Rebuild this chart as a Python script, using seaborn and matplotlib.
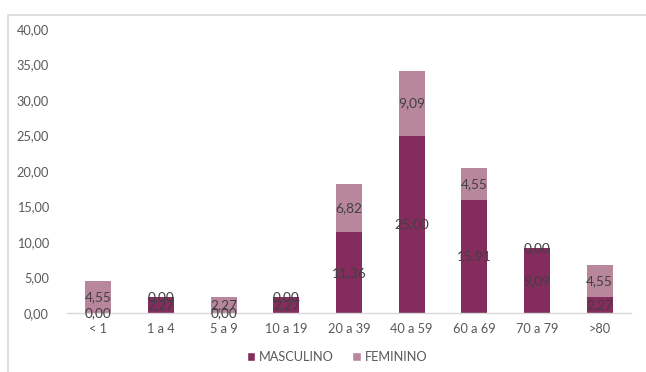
import matplotlib
matplotlib.use("Agg")
import matplotlib.pyplot as plt
from matplotlib.patches import Rectangle, Patch
import seaborn as sns
import pandas as pd

categories = ["< 1", "1 a 4", "5 a 9", "10 a 19", "20 a 39", "40 a 59", "60 a 69", "70 a 79", ">80"]
masculino = [0.00, 2.27, 0.00, 2.27, 11.36, 25.00, 15.91, 9.09, 2.27]
feminino = [4.55, 0.00, 2.27, 0.00, 6.82, 9.09, 4.55, 0.00, 4.55]
yticks = [0, 5, 10, 15, 20, 25, 30, 35, 40]

COL_M = "#842C5E"
COL_F = "#B8879C"
TXT = "#404040"
TICK = "#595959"

sns.set_theme(style="white")
plt.rcParams["font.family"] = ["Lato", "DejaVu Sans"]

df = pd.DataFrame({"faixa": categories, "masc": masculino, "fem": feminino})
df["total"] = df["masc"] + df["fem"]

W, H = 646, 372
fig = plt.figure(figsize=(W / 100, H / 100), dpi=100)
ax = fig.add_axes([67 / W, 1 - 313 / H, (631 - 67) / W, (313 - 29) / H])

# stacked bars: total (feminino on top) then masculino at the base
sns.barplot(data=df, x="faixa", y="total", color=COL_F, saturation=1, width=0.41, ax=ax, order=categories)
sns.barplot(data=df, x="faixa", y="masc", color=COL_M, saturation=1, width=0.41, ax=ax, order=categories)
for p in ax.patches:
    p.set_edgecolor("none")

def fmt(v):
    return f"{v:.2f}".replace(".", ",")

for i, (m, f) in enumerate(zip(masculino, feminino)):
    ax.text(i, m / 2, fmt(m), ha="center", va="center", fontsize=9.8, color=TXT)
    ax.text(i, m + f / 2, fmt(f), ha="center", va="center", fontsize=9.8, color=TXT)

ax.set_ylim(0, 40)
ax.set_xlim(-0.5, len(categories) - 0.5)
ax.set_yticks(yticks)
ax.set_yticklabels([fmt(v) for v in yticks])
ax.set_xlabel("")
ax.set_ylabel("")
ax.tick_params(axis="y", length=0, pad=13, labelsize=9.2, labelcolor=TICK)
ax.tick_params(axis="x", length=0, pad=7, labelsize=9.2, labelcolor=TICK)
for side in ["top", "right", "left"]:
    ax.spines[side].set_visible(False)
ax.spines["bottom"].set_color("#D9D9D9")
ax.spines["bottom"].set_linewidth(1)
ax.grid(False)

handles = [Patch(facecolor=COL_M, label="MASCULINO"), Patch(facecolor=COL_F, label="FEMININO")]
fig.legend(handles=handles, loc="center", bbox_to_anchor=(337 / W, 1 - 357 / H), ncol=2,
           frameon=False, fontsize=9.2, labelcolor=TICK, handlelength=0.7, handleheight=0.7,
           handletextpad=0.3, columnspacing=1.4)

# chart area border
fig.patches.append(Rectangle((8 / W, -0.1), 1.1, 1.1 - 14.5 / H, transform=fig.transFigure,
                             fill=False, edgecolor="#D9D9D9", linewidth=1.2))

fig.savefig("out.png", dpi=100)
